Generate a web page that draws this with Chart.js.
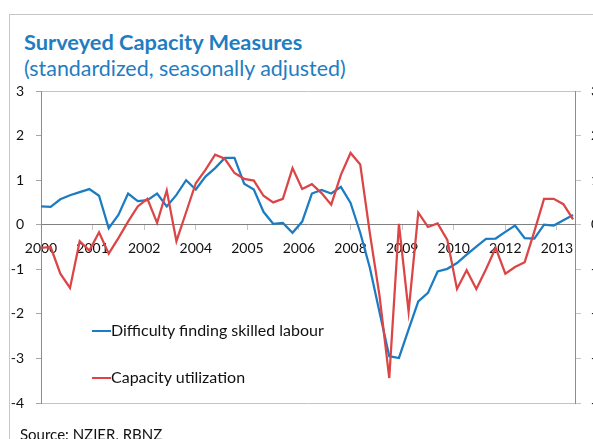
<!DOCTYPE html>
<html lang="en">
<head>
  <meta charset="UTF-8">
  <title>Surveyed Capacity Measures</title>
  <script src="https://cdn.jsdelivr.net/npm/chart.js"></script>
  <style>
    html, body { margin: 0; padding: 0; background: #fff; }
    body { width: 593px; height: 439px; overflow: hidden; position: relative; font-family: Lato, sans-serif; }
    .frame { position: absolute; left: 9px; top: 14px; width: 700px; height: 600px; border: 1px solid #c6c6c6; }
    .title { position: absolute; left: 24px; top: 30px; font-size: 21.8px; line-height: 24px; font-weight: bold; color: #1f7dc1; white-space: nowrap; }
    .subtitle { position: absolute; left: 24px; top: 56px; font-size: 21.4px; line-height: 24px; color: #1f7dc1; white-space: nowrap; }
    .source { position: absolute; left: 20px; top: 425px; font-size: 15px; line-height: 18px; color: #111; white-space: nowrap; }
    #chart { position: absolute; left: 0; top: 0; }
    .legend-item { position: absolute; left: 92px; font-size: 16px; line-height: 20px; color: #111; white-space: nowrap; }
    .legend-item span { display: inline-block; width: 19px; height: 2px; vertical-align: middle; margin-right: 0; position: relative; top: -1px; }
  </style>
</head>
<body>
  <div class="frame"></div>
  <div class="title">Surveyed Capacity Measures</div>
  <div class="subtitle">(standardized, seasonally adjusted)</div>
  <canvas id="chart" width="620" height="439"></canvas>
  <div id="legend"></div>
  <div class="source">Source: NZIER, RBNZ</div>

  <script>
    // quarterly observations, 2000Q1 - 2013Q4
    const quarters = [
      '2000Q1','2000Q2','2000Q3','2000Q4','2001Q1','2001Q2','2001Q3','2001Q4',
      '2002Q1','2002Q2','2002Q3','2002Q4','2003Q1','2003Q2','2003Q3','2003Q4',
      '2004Q1','2004Q2','2004Q3','2004Q4','2005Q1','2005Q2','2005Q3','2005Q4',
      '2006Q1','2006Q2','2006Q3','2006Q4','2007Q1','2007Q2','2007Q3','2007Q4',
      '2008Q1','2008Q2','2008Q3','2008Q4','2009Q1','2009Q2','2009Q3','2009Q4',
      '2010Q1','2010Q2','2010Q3','2010Q4','2011Q1','2011Q2','2011Q3','2011Q4',
      '2012Q1','2012Q2','2012Q3','2012Q4','2013Q1','2013Q2','2013Q3','2013Q4'
    ];
    const skilledLabour = [
      0.41, 0.40, 0.57, 0.66, 0.73, 0.80, 0.65, -0.08,
      0.22, 0.70, 0.53, 0.55, 0.70, 0.41, 0.67, 1.00,
      0.79, 1.08, 1.27, 1.50, 1.50, 0.92, 0.79, 0.29,
      0.02, 0.04, -0.18, 0.07, 0.70, 0.78, 0.70, 0.85,
      0.49, -0.18, -0.97, -1.97, -2.95, -2.99, -2.35, -1.72,
      -1.53, -1.05, -0.99, -0.86, -0.67, -0.49, -0.32, -0.31,
      -0.16, -0.02, -0.30, -0.31, 0.00, -0.02, 0.10, 0.22
    ];
    const capacityUtil = [
      -0.52, -0.50, -1.10, -1.42, -0.37, -0.58, -0.17, -0.65,
      -0.30, 0.07, 0.41, 0.58, 0.04, 0.77, -0.37, 0.28,
      0.93, 1.23, 1.57, 1.48, 1.16, 1.03, 0.99, 0.65,
      0.50, 0.58, 1.27, 0.80, 0.91, 0.71, 0.45, 1.12,
      1.61, 1.35, -0.20, -1.60, -3.44, 0.02, -1.95, 0.27,
      -0.05, 0.03, -0.34, -1.44, -1.02, -1.44, -1.00, -0.52,
      -1.10, -0.95, -0.84, -0.15, 0.58, 0.58, 0.46, 0.12
    ];
    // axis labels every 16 months (Excel date axis)
    const tickLabels = ['2000', '2001', '2002', '2004', '2005', '2006', '2008', '2009', '2010', '2012', '2013'];
    const TICK_STEP = 16 / 3; // in quarters

    const seriesNames = ['Difficulty finding skilled labour', 'Capacity utilization'];
    const seriesColors = ['#1b7cc3', '#db4545'];

    const axisFont = { family: 'Lato', size: 14 };

    function points(values) {
      return values.map((v, i) => ({ x: i, y: v, q: quarters[i] }));
    }

    const ctx = document.getElementById('chart').getContext('2d');
    new Chart(ctx, {
      type: 'line',
      data: {
        datasets: [
          { label: seriesNames[0], data: points(skilledLabour), borderColor: seriesColors[0], borderWidth: 2.25, pointRadius: 0, tension: 0, order: 1 },
          { label: seriesNames[1], data: points(capacityUtil), borderColor: seriesColors[1], borderWidth: 2.25, pointRadius: 0, tension: 0, order: 0 }
        ]
      },
      options: {
        responsive: false,
        animation: false,
        devicePixelRatio: 1,
        layout: { padding: { top: 91, bottom: 36, left: 0, right: 0 } },
        plugins: { legend: { display: false }, tooltip: { enabled: false } },
        scales: {
          x: {
            type: 'linear',
            min: 0,
            max: 55.2,
            position: { y: 0 },
            afterFit: s => { s.height = 0; },
            afterBuildTicks: s => { s.ticks = tickLabels.map((t, i) => ({ value: i * TICK_STEP })); },
            ticks: { callback: (v, i) => tickLabels[i], font: axisFont, color: '#111', padding: 10, maxRotation: 0, autoSkip: false },
            grid: { drawOnChartArea: false, tickLength: 5, tickColor: '#c4c4c4' },
            border: { color: '#808080', width: 1 }
          },
          y: {
            min: -4,
            max: 3,
            afterFit: s => { s.width = 41; },
            ticks: { stepSize: 1, font: axisFont, color: '#111', padding: 12 },
            grid: {
              color: c => (c.tick.value === 3 || c.tick.value === -4) ? '#c4c4c4' : 'rgba(0,0,0,0)',
              tickColor: '#a6a6a6',
              tickLength: 5
            },
            border: { color: '#8c8c8c', width: 1 }
          },
          y2: {
            position: 'right',
            min: -4,
            max: 3,
            afterFit: s => { s.width = 45; },
            ticks: { stepSize: 1, font: axisFont, color: '#111', padding: 10 },
            grid: { drawOnChartArea: false, tickColor: '#c4c4c4', tickLength: 6 },
            border: { color: '#8c8c8c', width: 1 }
          }
        }
      }
    });

    // legend inside the plot area
    const legend = document.getElementById('legend');
    const legendTops = [320, 367];
    seriesNames.forEach((name, i) => {
      const item = document.createElement('div');
      item.className = 'legend-item';
      item.style.top = legendTops[i] + 'px';
      item.innerHTML = '<span style="background:' + seriesColors[i] + '"></span>' + name;
      legend.appendChild(item);
    });
  </script>
</body>
</html>
